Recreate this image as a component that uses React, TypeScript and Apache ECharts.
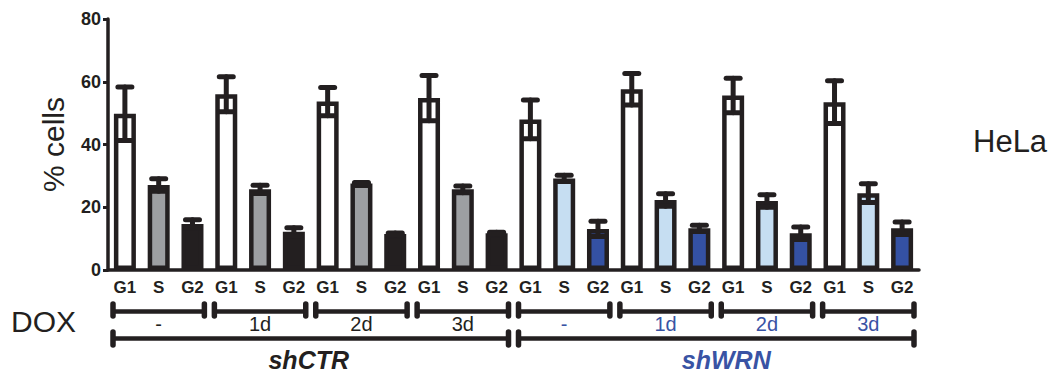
import React, { useEffect, useRef } from "react";
import * as echarts from "echarts";

const phases = ["G1", "S", "G2"];
const doxLabels = ["-", "1d", "2d", "3d", "-", "1d", "2d", "3d"];
const shGroups = ["shCTR", "shWRN"];
const yTicks = [0, 20, 40, 60, 80];

const g1Mean = [49.8, 56.0, 53.7, 54.8, 48.0, 57.6, 55.6, 53.5];
const g1Err = [8.5, 5.6, 4.5, 7.2, 6.2, 5.0, 5.5, 6.8];
const sMean = [27.1, 25.7, 27.6, 25.7, 29.2, 22.3, 22.0, 24.5];
const sErr = [2.0, 1.3, 0.3, 1.1, 1.0, 2.0, 2.0, 3.0];
const g2Mean = [14.7, 12.2, 11.5, 11.7, 13.1, 13.3, 11.7, 13.3];
const g2Err = [1.3, 1.3, 0.3, 0.3, 2.4, 1.0, 2.0, 2.0];

const INK = "#231f20";
const BLUE_TEXT = "#3953a4";
const FONT = "'Liberation Sans', Arial, Helvetica, sans-serif";
const fills = {
  shCTR: ["#ffffff", "#9d9fa2", "#231f20"],
  shWRN: ["#ffffff", "#c6def2", "#3451a3"],
};

export default function App() {
  const ref = useRef<HTMLDivElement>(null);

  useEffect(() => {
    if (!ref.current) return;
    const chart = echarts.init(ref.current, null, { renderer: "svg" });

    const categories: string[] = [];
    const barData: any[] = [];
    const errData: number[][] = [];
    doxLabels.forEach((_, i) => {
      const sh = i < 4 ? "shCTR" : "shWRN";
      const means = [g1Mean[i], sMean[i], g2Mean[i]];
      const errs = [g1Err[i], sErr[i], g2Err[i]];
      phases.forEach((p, j) => {
        const idx = categories.length;
        categories.push(p);
        barData.push({
          value: means[j],
          itemStyle: { color: (fills as any)[sh][j] },
        });
        errData.push([idx, means[j] - errs[j], means[j] + errs[j]]);
      });
    });

    chart.setOption({
      animation: false,
      grid: { left: 108, right: 136, top: 19, bottom: 106, containLabel: false },
      xAxis: {
        type: "category",
        data: categories,
        axisLine: { lineStyle: { color: INK, width: 3.5 } },
        axisTick: { alignWithLabel: true, length: 5, lineStyle: { color: INK, width: 2.5 } },
        axisLabel: {
          color: INK,
          fontFamily: FONT,
          fontWeight: "bold",
          fontSize: 17,
          margin: 9,
          interval: 0,
        },
      },
      yAxis: {
        type: "value",
        min: yTicks[0],
        max: yTicks[yTicks.length - 1],
        interval: 20,
        splitLine: { show: false },
        axisLine: { show: true, lineStyle: { color: INK, width: 3.5 } },
        axisTick: { show: true, length: 5, lineStyle: { color: INK, width: 3 } },
        axisLabel: {
          color: INK,
          fontFamily: FONT,
          fontWeight: "bold",
          fontSize: 18,
          margin: 7,
        },
        name: "% cells",
        nameLocation: "middle",
        nameRotate: 90,
        nameGap: 40,
        nameTextStyle: { color: INK, fontFamily: FONT, fontSize: 30 },
      },
      series: [
        {
          type: "bar",
          data: barData,
          barWidth: 22,
          itemStyle: { borderColor: INK, borderWidth: 4.5 },
          z: 2,
        },
        {
          type: "custom",
          data: errData,
          encode: { x: 0, y: [1, 2] },
          z: 3,
          renderItem: (params: any, api: any) => {
            const x = api.value(0);
            const lo = api.coord([x, api.value(1)]);
            const hi = api.coord([x, api.value(2)]);
            const half = 7;
            const st = { stroke: INK, lineWidth: 5, lineCap: "round" };
            return {
              type: "group",
              children: [
                { type: "line", shape: { x1: hi[0], y1: hi[1], x2: lo[0], y2: lo[1] }, style: st },
                { type: "line", shape: { x1: hi[0] - half, y1: hi[1], x2: hi[0] + half, y2: hi[1] }, style: st },
                { type: "line", shape: { x1: lo[0] - half, y1: lo[1], x2: lo[0] + half, y2: lo[1] }, style: st },
              ],
            };
          },
        },
      ],
    });

    const cx = (i: number) => chart.convertToPixel({ xAxisIndex: 0 }, i) as number;
    const step = cx(1) - cx(0);
    const edgeL = (i: number) => cx(i) - step / 2;
    const edgeR = (i: number) => cx(i) + step / 2;
    const inset = 5;

    const graphics: any[] = [];
    const bracket = (x1: number, x2: number, y: number, capTop: number, capBot: number) => {
      graphics.push({
        type: "line",
        shape: { x1, y1: y, x2, y2: y },
        style: { stroke: INK, lineWidth: 4.5 },
      });
      [x1, x2].forEach((x) =>
        graphics.push({
          type: "line",
          shape: { x1: x, y1: capTop, x2: x, y2: capBot },
          style: { stroke: INK, lineWidth: 5.5, lineCap: "round" },
        })
      );
    };

    doxLabels.forEach((lab, g) => {
      const a = edgeL(g * 3) + inset;
      const b = edgeR(g * 3 + 2) - inset;
      bracket(a, b, 311.5, 304, 316);
      graphics.push({
        type: "text",
        x: cx(g * 3 + 1),
        y: 324,
        style: {
          text: lab,
          fill: g < 4 ? INK : BLUE_TEXT,
          font: `20px ${FONT}`,
          align: "center",
          verticalAlign: "middle",
        },
      });
    });

    shGroups.forEach((name, k) => {
      const a = edgeL(k * 12) + inset;
      const b = edgeR(k * 12 + 11) - inset;
      bracket(a, b, 338.5, 332, 345);
      graphics.push({
        type: "text",
        x: (a + b) / 2 + (k === 1 ? 10 : -2),
        y: 360,
        style: {
          text: name,
          fill: k === 0 ? INK : BLUE_TEXT,
          font: `italic bold 25px ${FONT}`,
          align: "center",
          verticalAlign: "middle",
        },
      });
    });

    graphics.push({
      type: "text",
      x: 11,
      y: 321,
      style: { text: "DOX", fill: INK, font: `30px ${FONT}`, align: "left", verticalAlign: "middle" },
    });
    graphics.push({
      type: "text",
      x: 973,
      y: 141,
      style: { text: "HeLa", fill: INK, font: `31px ${FONT}`, align: "left", verticalAlign: "middle" },
    });

    chart.setOption({ graphic: graphics });

    return () => chart.dispose();
  }, []);

  return (
    <div
      ref={ref}
      style={{ position: "fixed", left: 0, top: 0, width: 1055, height: 376, background: "#ffffff" }}
    />
  );
}
